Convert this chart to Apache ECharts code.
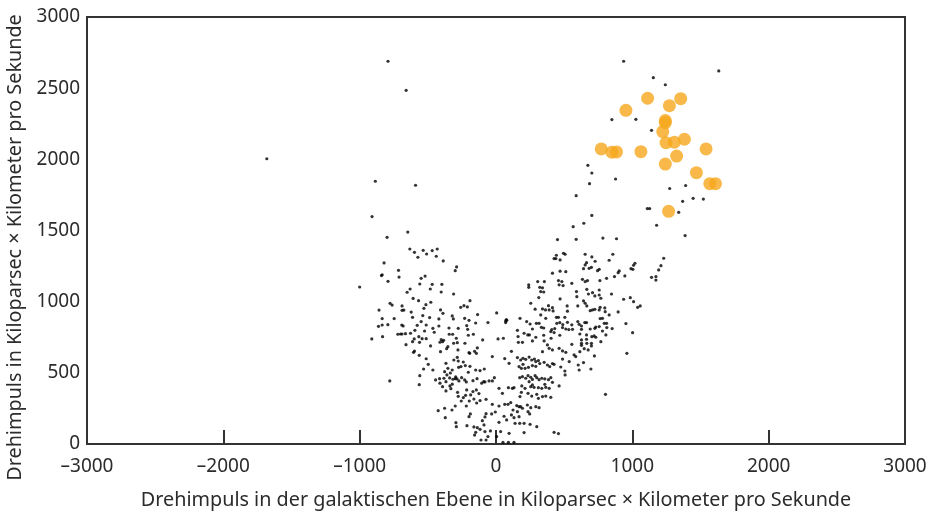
<!DOCTYPE html>
<html>
<head>
<meta charset="utf-8">
<script src="https://cdn.jsdelivr.net/npm/echarts@6/dist/echarts.min.js"></script>
<style>
html, body { margin: 0; padding: 0; background: #fff; }
#chart { width: 944px; height: 517px; }
</style>
</head>
<body>
<div id="chart"></div>
<script>
// Achsen
var xTicks = [-3000, 3000, 1000];
var yTicks = [0, 3000, 500];
var xName = 'Drehimpuls in der galaktischen Ebene in Kiloparsec \u00d7 Kilometer pro Sekunde';
var yName = 'Drehimpuls in Kiloparsec \u00d7 Kilometer pro Sekunde';

// Sternstrom (orange)
var streamStars = [
	[1112,2429],[1355,2426],[1272,2377],[953,2344],[1242,2272],[1242,2258],[1223,2195],
	[1247,2117],[1308,2120],[1382,2141],[772,2073],[850,2050],[884,2052],[1063,2054],
	[1541,2073],[1325,2023],[1242,1967],[1470,1906],[1568,1829],[1610,1829],[1266,1635]
];

// vereinzelte Sterne
var sparseStars = [
	[936,2689],[1154,2574],[1242,2524],[1634,2621],[850,2279],[1026,2281],[1141,2204],
	[674,1958],[703,1904],[686,1829],[877,1862],[588,1745],[703,1606],[644,1551],[566,1527],
	[1274,1795],[1391,1816],[1369,1705],[1446,1726],[1521,1721],[1340,1628],[1110,1654],
	[1127,1654],[1178,1537],[588,1438],[784,1447],[884,1442],[1387,1464],
	[-792,2689],[-659,2485],[-1681,2004],[-885,1846],[-590,1818],[-909,1598],[-647,1489],
	[-799,1452],[-1000,1103]
];

// linker Arm
var leftStars = [
	[-632,1370],[-598,1347],[-573,1312],[-534,1361],[-509,1335],[-821,1272],[-715,1220],
	[-840,1183],[-835,1189],[-711,1173],[-792,1143],[-520,1180],[-549,1164],[-559,1124],
	[-630,1089],[-652,1066],[-608,1023],[-568,1007],[-777,988],[-762,976],[-514,979],
	[-689,970],[-529,953],[-858,941],[-689,939],[-676,941],[-622,927],[-612,890],[-537,902],
	[-835,881],[-747,881],[-549,860],[-578,834],[-512,836],[-862,827],[-835,836],[-793,838],
	[-691,836],[-681,829],[-595,799],[-524,794],[-832,754],[-911,738],[-720,771],[-700,773],
	[-689,773],[-664,775],[-627,778],[-566,754],[-542,740],[-512,740],[-600,738],
	[-660,698],[-612,719],[-561,714],[-605,644],[-598,653],[-563,623],[-512,599],[-497,560],
	[-531,527],[-559,480],[-779,443],[-563,417],
	[-468,1359],[-431,1370],[-438,1319],[-387,1286],[-289,1244],[-299,1218],[-468,1122],
	[-397,1122],[-482,1089],[-402,1068],[-311,1054]
];

// Mitte
var centerStars = [
	[-478,996],[-259,960],[-235,972],[-210,963],[-191,1007],[-407,942],[-389,918],
	[-487,888],[-419,879],[-321,900],[-313,879],[-230,883],[-198,869],[-135,909],[5,921],
	[79,869],[71,853],[-59,853],[-149,850],[-419,829],[-463,813],[-453,785],[-345,815],
	[-277,813],[-215,832],[-208,806],[-203,764],[-166,771],[-318,771],[-343,771],[-291,743],
	[-402,733],[-411,715],[-392,719],[-384,729],[-311,708],[-284,712],[-228,708],[-279,661],
	[-480,689],[-353,684],[-362,670],[-407,649],[-98,731],[15,738],[-198,642],[-193,637],
	[-157,651],[-137,675],[-144,637],[-27,614],[-463,520],[-309,590],[-277,583],
	[-284,609],[-240,576],[-274,539],[-257,544],[-225,551],[-191,546],[-203,504],[-149,520],
	[-117,516],[-86,527],[-367,567],[-353,532],[-321,520],[-335,499],[-377,508],[-360,485],
	[-296,471],[-286,457],[-316,455],[-299,459],[-340,464],[-382,462],[-414,459],[-443,450],
	[-411,427],[-392,403],[-367,438],[-338,408],[-321,420],[-272,443],[-252,466],[-230,450],
	[-218,436],[-169,445],[-139,459],[-90,438],[-51,443],[-27,443],[-12,466],[-105,427],
	[-81,436],[-367,373],[-331,389],[-282,363],[-277,335],[-215,380],[-223,342],[-186,345],
	[-169,368],[-144,380],[-125,354],[-162,316],[-117,305],[-142,288],[-196,302],[-240,326],
	[-255,302],[-299,267],[-323,239],[-377,251],[-424,234],[-372,185],[-218,267],[-188,211],
	[-73,314],[22,267],[-27,279],[-32,211],[-5,225],[-73,213],[-81,190],
	[-100,164],[-88,134],[-198,192],[-137,115],[-162,120],[-117,103],[-294,150],[-291,122],
	[-213,129],[-157,63],[-149,82],[-81,87],[-59,52],[-41,92],[5,52],[-110,28],[-73,28]
];

// rechter Arm
var rightStars = [
	[451,1436],[495,1340],[507,1333],[443,1326],[426,1303],[439,1303],[470,1293],
	[414,1200],[470,1214],[512,1211],[458,1148],[483,1141],[556,1129],[463,1118],[492,1113],
	[240,1118],[240,1101],[306,1141],[355,1141],[321,1101],[341,1097],[328,1071],[350,1068],
	[590,1071],[470,1019],[314,1029],[255,989],[385,972],[414,958],[287,947],[341,949],
	[363,942],[390,942],[522,970],[600,970],[524,933],[328,907],[419,935],[443,890],[458,890],
	[505,890],[365,883],[296,848],[316,848],[446,848],[468,853],[490,839],[524,855],[556,837],
	[600,860],[610,841],[71,865],[76,874],[176,883],[225,860],[250,843],[267,808],[333,820],
	[350,815],[409,804],[431,811],[488,818],[512,808],[534,804],[561,806],[157,799],[206,778],
	[233,766],[245,766],[292,750],[350,764],[402,790],[426,783],[468,764],[162,755],[54,743],
	[164,714],[194,714],[267,724],[353,724],[404,743],[556,700],[377,696],[390,672],
	[463,672],[488,654],[512,644],[341,649],[414,661],[113,651],[64,600],[96,567],[157,607],
	[181,590],[198,602],[218,595],[243,611],[262,590],[282,597],[292,579],[311,586],[321,565],
	[169,544],[186,532],[198,560],[213,532],[238,539],[267,551],[292,546],[353,574],[377,555],
	[394,544],[414,565],[426,560],[488,597],[475,541],[537,579],[505,513],[507,485],[603,555],
	[610,520],[174,466],[194,473],[218,462],[235,480],[255,469],[267,454],[287,480],[299,466],
	[316,452],[336,462],[358,457],[385,452],[402,466],[358,419],[414,433],[463,408],[243,438],
	[255,403],[267,415],[279,398],[189,408],[213,391],[311,396],[336,391],[365,398],[390,391],
	[22,391],[47,356],[91,396],[120,391],[132,396],[186,363],[176,333],[235,356],[262,337],
	[299,349],[311,321],[341,333],[365,337],[402,328],[64,279],[88,279],[108,291],[152,270],
	[169,262],[181,262],[194,251],[125,239],[157,227],[230,274],[255,255],[292,262],[316,255],
	[247,211],[235,227],[59,195],[113,204],[132,185],[169,192],[78,169],[140,145],[174,145],
	[206,145],[250,138],[299,122],[22,152],[34,87],[96,75],[206,80],[426,82],[458,73],
	[51,12],[91,12],[132,12],
	[1230,1305],[654,1333],[703,1314],[727,1284],[664,1274],[654,1258],[642,1232],[683,1234],
	[700,1241],[757,1227],[745,1218],[857,1333],[830,1291],[1019,1270],[1009,1256],[990,1232],
	[1004,1227],[904,1216],[896,1204],[1210,1253],[1193,1223],[811,1164],[869,1176],[945,1181],
	[1141,1171],[1173,1176],[1173,1152],[634,1157],[654,1141],[671,1148],[762,1148],[593,1035],
	[666,1087],[678,1054],[708,1063],[757,1082],[769,1024],[757,1047],[725,1040],[847,1054],
	[936,1017],[985,1028],[1009,1000],[1039,960],[1058,970],[642,1005],[654,989],[666,970],
	[691,937],[708,942],[725,946],[757,942],[764,960],[798,956],[801,930],[781,883],[764,881],
	[830,907],[896,928],[627,829],[627,806],[651,853],[664,853],[691,808],[725,813],[732,822],
	[757,825],[794,848],[811,848],[781,794],[813,818],[852,811],[953,846],[615,773],[664,766],
	[664,736],[703,754],[720,759],[732,750],[806,766],[627,731],[627,707],[627,693],[666,707],
	[700,707],[700,689],[769,719],[1002,782],[615,649],[647,670],[676,661],[585,614],[573,626],
	[722,619],[960,637],[642,572],[696,527],[803,349]
];

var fieldStars = sparseStars.concat(leftStars, centerStars, rightStars);

var textColor = '#2b2b2b';
var lineColor = '#333';
var font = 'Noto Sans';

function dash(v) {
	return String(v).replace('-', '\u2013');
}

var chart = echarts.init(document.getElementById('chart'));
var option = {
	animation: false,
	grid: {
		left: 87, right: 39, top: 17, bottom: 73,
		outerBoundsMode: 'none', containLabel: false,
		show: true, borderColor: lineColor, borderWidth: 2, backgroundColor: 'transparent'
	},
	xAxis: {
		type: 'value',
		min: xTicks[0], max: xTicks[1], interval: xTicks[2],
		name: xName, nameLocation: 'middle', nameGap: 46,
		nameTextStyle: { color: textColor, fontSize: 19.8, fontFamily: font },
		axisLine: { show: true, onZero: false, lineStyle: { color: lineColor, width: 2 } },
		axisTick: { show: true, inside: true, length: 14, lineStyle: { color: lineColor, width: 2 } },
		axisLabel: { color: textColor, fontSize: 19, fontFamily: font, margin: 13, formatter: dash },
		splitLine: { show: false }
	},
	yAxis: {
		type: 'value',
		min: yTicks[0], max: yTicks[1], interval: yTicks[2],
		name: yName, nameLocation: 'middle', nameGap: 50,
		nameTextStyle: { color: textColor, fontSize: 19.8, fontFamily: font, padding: [0, 34, 0, 0] },
		axisLine: { show: true, onZero: false, lineStyle: { color: lineColor, width: 2 } },
		axisTick: { show: false },
		axisLabel: { color: textColor, fontSize: 19, fontFamily: font, margin: 7, formatter: dash },
		splitLine: { show: false }
	},
	series: [{
		name: 'Sterne',
		type: 'scatter',
		data: fieldStars,
		symbolSize: 3.2,
		itemStyle: { color: '#000' },
		z: 2
	}, {
		name: 'Sternstrom',
		type: 'scatter',
		data: streamStars,
		symbolSize: 13,
		itemStyle: { color: '#f6a81d' },
		z: 3
	}]
};
chart.setOption(option);
</script>
</body>
</html>
